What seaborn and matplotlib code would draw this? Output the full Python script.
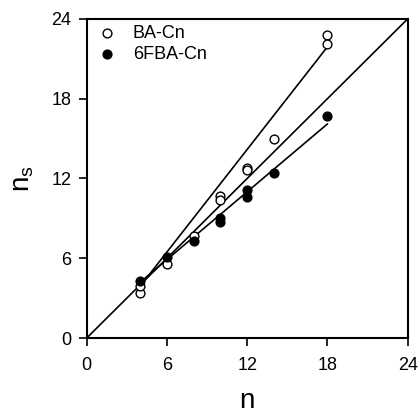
import numpy
import pandas
import matplotlib
matplotlib.use("Agg")
import matplotlib.pyplot as pyplot
import seaborn

# data
ba_n = [4, 4, 6, 8, 10, 10, 12, 12, 14, 18, 18]
ba_ns = [3.4, 3.9, 5.6, 7.7, 10.7, 10.4, 12.8, 12.6, 15.0, 22.8, 22.1]
fba_n = [4, 6, 8, 10, 10, 12, 12, 14, 18]
fba_ns = [4.3, 6.1, 7.3, 9.0, 8.7, 11.1, 10.6, 12.4, 16.7]

# fitted lines (endpoints as drawn)
fit_n = [4, 18]
ba_fit = [3.9, 21.9]
fba_fit = [4.2, 16.1]
diag = [0, 24]

seaborn.set_style("ticks")
pyplot.rcParams["font.family"] = ["Liberation Sans", "DejaVu Sans"]
pyplot.rcParams["font.size"] = 12
for key in ["text.color", "axes.labelcolor", "xtick.color", "ytick.color"]:
    pyplot.rcParams[key] = "black"

ba_df = pandas.DataFrame({"n": ba_n, "ns": ba_ns})
fba_df = pandas.DataFrame({"n": fba_n, "ns": fba_ns})

fig = pyplot.figure(figsize=(4.19, 4.15), dpi=100)
ax = fig.add_axes([0.207, 0.1855, 0.766, 0.769])

ax.plot(diag, diag, color="black", lw=1.2, zorder=1)
ax.plot(fit_n, ba_fit, color="black", lw=1.2, zorder=1)
ax.plot(fit_n, fba_fit, color="black", lw=1.2, zorder=1)

seaborn.scatterplot(data=ba_df, x="n", y="ns", ax=ax, marker="o", s=40,
                    facecolor="white", edgecolor="black", linewidth=1.0,
                    label="BA-Cn", zorder=3)
seaborn.scatterplot(data=fba_df, x="n", y="ns", ax=ax, marker="o", s=40,
                    facecolor="black", edgecolor="black", linewidth=1.0,
                    label="6FBA-Cn", zorder=3)

ax.set_xlim(0, 24)
ax.set_ylim(0, 24)
ax.set_xticks([0, 6, 12, 18, 24])
ax.set_yticks([0, 6, 12, 18, 24])
ax.tick_params(direction="out", length=6, width=1.2, labelsize=13, pad=5,
               colors="black")
ax.tick_params(axis="x", pad=8)
for s in ax.spines.values():
    s.set_linewidth(1.5)
    s.set_color("black")

ax.set_xlabel("n", fontsize=20, labelpad=10)
ax.set_ylabel("n$_\\mathregular{s}$", fontsize=20, labelpad=11)

ax.legend(loc="upper left", frameon=False, fontsize=13, handletextpad=0.6,
          borderaxespad=0.0, labelspacing=0.2, handlelength=1.6,
          borderpad=0.35)

pyplot.savefig("out.png", dpi=100)
